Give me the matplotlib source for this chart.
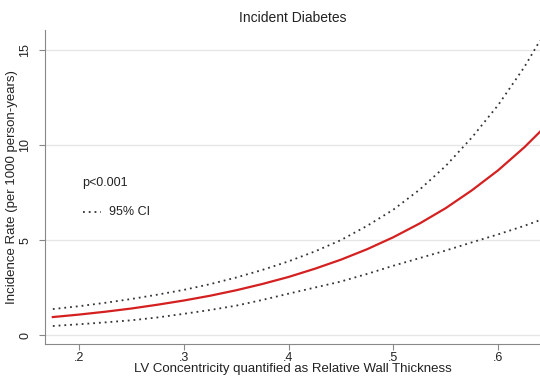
import matplotlib
matplotlib.use("Agg")
import matplotlib.pyplot as plt

plt.rcParams['font.family'] = ['Liberation Sans', 'DejaVu Sans']

# relative wall thickness
rwt = [0.175, 0.20, 0.225, 0.25, 0.275, 0.30, 0.325, 0.35, 0.375, 0.40,
       0.425, 0.45, 0.475, 0.50, 0.525, 0.55, 0.575, 0.60, 0.625, 0.64]
# incidence rate and 95% CI (per 1000 person-years)
rate = [0.95, 1.08, 1.23, 1.40, 1.60, 1.82, 2.07, 2.36, 2.69, 3.06,
        3.49, 3.97, 4.52, 5.15, 5.87, 6.68, 7.62, 8.67, 9.88, 10.7]
upper = [1.37, 1.52, 1.70, 1.90, 2.13, 2.38, 2.68, 3.03, 3.43, 3.88,
         4.40, 5.00, 5.75, 6.60, 7.65, 8.90, 10.4, 12.1, 14.1, 15.5]
lower = [0.48, 0.57, 0.67, 0.78, 0.93, 1.12, 1.32, 1.55, 1.85, 2.18,
         2.50, 2.82, 3.22, 3.65, 4.05, 4.45, 4.88, 5.30, 5.75, 6.05]

xticks = [0.2, 0.3, 0.4, 0.5, 0.6]
xticklabels = [".2", ".3", ".4", ".5", ".6"]
yticks = [0, 5, 10, 15]

fig = plt.figure(figsize=(5.4, 3.76), dpi=100)
ax = fig.add_axes([0.0833, 0.085, 0.9167, 0.835])

ax.plot(rwt, upper, color='#333333', lw=1.3, ls=(0, (1, 2.2)))
ax.plot(rwt, lower, color='#333333', lw=1.3, ls=(0, (1, 2.2)))
ax.plot(rwt, rate, color='#d42020', lw=1.6)

ax.set_xlim(0.1675, 0.640)
ax.set_ylim(-0.47, 16.05)
ax.set_xticks(xticks)
ax.set_xticklabels(xticklabels)
ax.set_yticks(yticks)
ax.set_yticklabels([str(v) for v in yticks], rotation=90, va='center')
ax.grid(axis='y', color='#e6e6e6', lw=1)
ax.set_axisbelow(True)

for s in ['top', 'right']:
    ax.spines[s].set_visible(False)
for s in ['left', 'bottom']:
    ax.spines[s].set_color('#888888')
ax.tick_params(colors='#888888', labelcolor='#222222', labelsize=9, length=4)
ax.tick_params(axis='x', pad=2)
ax.tick_params(axis='y', pad=6)

ax.set_title("Incident Diabetes", fontsize=10, color='#222222', pad=6)
ax.set_xlabel("LV Concentricity quantified as Relative Wall Thickness",
              fontsize=9.5, color='#222222', labelpad=-1)
ax.set_ylabel("Incidence Rate (per 1000 person-years)", fontsize=9.5,
              color='#222222', labelpad=1)

ax.text(0.203, 8.0, "p<0.001", fontsize=9, color='#222222', va='center')
ax.plot([0.204, 0.221], [6.47, 6.47], color='#333333', lw=1.3, ls=(0, (1, 2.2)))
ax.text(0.229, 6.47, "95% CI", fontsize=9, color='#222222', va='center')

fig.savefig("out.png", dpi=100)
